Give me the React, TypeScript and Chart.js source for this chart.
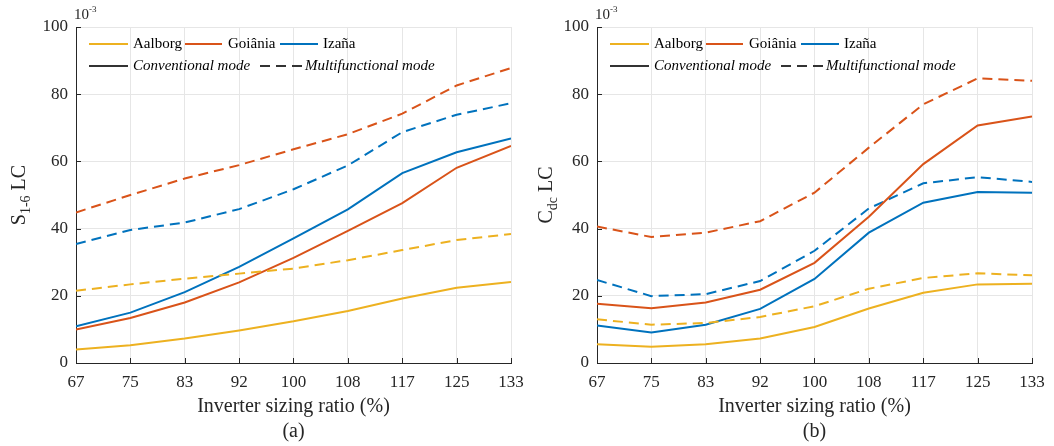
import React, { useEffect, useRef } from 'react';
import { Chart, registerables } from 'chart.js';

Chart.register(...registerables);

// Inverter sizing ratio (%) at which each case was simulated
const sizingRatio = [66.67, 75, 83.33, 91.67, 100, 108.33, 116.67, 125, 133.33];
const sizingTickLabels = ['67', '75', '83', '92', '100', '108', '117', '125', '133'];

const siteNames = ['Aalborg', 'Goiânia', 'Izaña'];
const siteColors = ['#EDB120', '#D95319', '#0072BD'];

// (a) S1-6 life consumption, ×10^-3
const s16AalborgConv = [4.0, 5.3, 7.3, 9.7, 12.4, 15.5, 19.2, 22.4, 24.1];
const s16AalborgMulti = [21.5, 23.4, 25.1, 26.6, 28.1, 30.6, 33.6, 36.6, 38.4];
const s16GoianiaConv = [10.0, 13.4, 18.0, 24.0, 31.3, 39.3, 47.6, 58.1, 64.6];
const s16GoianiaMulti = [44.8, 50.0, 54.9, 58.9, 63.6, 68.1, 74.2, 82.6, 87.8];
const s16IzanaConv = [10.9, 15.0, 21.1, 28.6, 37.1, 45.7, 56.5, 62.7, 66.8];
const s16IzanaMulti = [35.4, 39.6, 41.8, 45.8, 51.7, 58.8, 68.7, 73.9, 77.3];

// (b) DC-link capacitor life consumption, ×10^-3
const cdcAalborgConv = [5.6, 4.8, 5.6, 7.3, 10.7, 16.2, 20.9, 23.4, 23.6];
const cdcAalborgMulti = [13.0, 11.4, 11.9, 13.7, 16.9, 22.1, 25.3, 26.7, 26.1];
const cdcGoianiaConv = [17.6, 16.3, 18.0, 21.8, 29.8, 43.5, 59.2, 70.7, 73.4];
const cdcGoianiaMulti = [40.6, 37.5, 38.8, 42.2, 50.7, 64.1, 77.0, 84.7, 84.0];
const cdcIzanaConv = [11.2, 9.1, 11.4, 16.1, 25.0, 38.8, 47.7, 50.9, 50.7];
const cdcIzanaMulti = [24.7, 19.9, 20.5, 24.4, 33.4, 46.0, 53.5, 55.3, 53.9];

const yTicks = [0, 20, 40, 60, 80, 100];

const SERIF = '"Liberation Serif", "Times New Roman", serif';
const AXIS_GRAY = '#262626';
const GRID_GRAY = '#e6e6e6';
const DASH = [10, 6];

type PanelProps = {
  conv: number[][];
  multi: number[][];
  yMain: string;
  ySub: string;
  tag: string;
  left: number;
  axisWidth: number;
  padRight: number;
};

const CANVAS_W = 527;
const CANVAS_H = 446;
const PLOT_TOP = 27;
const PLOT_BOTTOM = 363;

function strokeSeg(ctx: CanvasRenderingContext2D, x0: number, x1: number, y: number, color: string, dash: number[]) {
  ctx.save();
  ctx.strokeStyle = color;
  ctx.lineWidth = 2;
  ctx.setLineDash(dash);
  ctx.beginPath();
  ctx.moveTo(x0, y);
  ctx.lineTo(x1, y);
  ctx.stroke();
  ctx.restore();
}

function Panel({ conv, multi, yMain, ySub, tag, left, axisWidth, padRight }: PanelProps) {
  const ref = useRef<HTMLCanvasElement | null>(null);

  useEffect(() => {
    if (!ref.current) return;

    const datasets: any[] = [];
    siteNames.forEach((name, i) => {
      datasets.push({
        label: `${name} conventional`,
        data: sizingRatio.map((x, k) => ({ x, y: conv[i][k] })),
        borderColor: siteColors[i],
        borderWidth: 2,
        pointRadius: 0,
        tension: 0,
      });
      datasets.push({
        label: `${name} multifunctional`,
        data: sizingRatio.map((x, k) => ({ x, y: multi[i][k] })),
        borderColor: siteColors[i],
        borderWidth: 2,
        borderDash: DASH,
        pointRadius: 0,
        tension: 0,
      });
    });

    const decorations = {
      id: 'decorations',
      afterDraw(chart: any) {
        const { ctx, chartArea, scales } = chart;
        const L = chartArea.left;
        const T = chartArea.top;
        const B = chartArea.bottom;

        // inward tick marks
        ctx.save();
        ctx.strokeStyle = AXIS_GRAY;
        ctx.lineWidth = 1;
        ctx.beginPath();
        yTicks.forEach((v) => {
          const py = Math.round(scales.y.getPixelForValue(v)) + 0.5;
          ctx.moveTo(L, py);
          ctx.lineTo(L + 5, py);
        });
        sizingRatio.forEach((v) => {
          const px = Math.round(scales.x.getPixelForValue(v)) + 0.5;
          ctx.moveTo(px, B);
          ctx.lineTo(px, B - 5);
        });
        ctx.stroke();
        ctx.restore();

        // exponent label above the y axis
        ctx.save();
        ctx.fillStyle = AXIS_GRAY;
        ctx.textBaseline = 'alphabetic';
        ctx.font = `15px ${SERIF}`;
        ctx.fillText('10', L - 2, 19);
        const w10 = ctx.measureText('10').width;
        ctx.font = `9px ${SERIF}`;
        ctx.fillText('-3', L - 2 + w10, 12);
        ctx.restore();

        // legend
        ctx.save();
        ctx.textBaseline = 'middle';
        ctx.fillStyle = '#000';
        const r1 = T + 17;
        const r2 = T + 39;
        const row1 = [
          { a: 13, b: 52, t: 57 },
          { a: 109, b: 146, t: 152 },
          { a: 204, b: 242, t: 247 },
        ];
        ctx.font = `15px ${SERIF}`;
        siteNames.forEach((name, i) => {
          strokeSeg(ctx, L + row1[i].a, L + row1[i].b, r1, siteColors[i], []);
          ctx.fillText(name, L + row1[i].t, r1);
        });
        ctx.font = `italic 15px ${SERIF}`;
        strokeSeg(ctx, L + 13, L + 52, r2, '#333333', []);
        ctx.fillText('Conventional mode', L + 57, r2);
        strokeSeg(ctx, L + 184, L + 226, r2, '#333333', DASH);
        ctx.fillText('Multifunctional mode', L + 229, r2);
        ctx.restore();

        // y-axis title with subscript
        ctx.save();
        ctx.translate(18, (T + B) / 2);
        ctx.rotate(-Math.PI / 2);
        ctx.fillStyle = AXIS_GRAY;
        ctx.textBaseline = 'alphabetic';
        const big = `20px ${SERIF}`;
        const small = `14px ${SERIF}`;
        ctx.font = big;
        const w1 = ctx.measureText(yMain).width;
        const w3 = ctx.measureText(' LC').width;
        ctx.font = small;
        const w2 = ctx.measureText(ySub).width;
        let x = -(w1 + w2 + w3) / 2;
        ctx.font = big;
        ctx.fillText(yMain, x, 7);
        x += w1;
        ctx.font = small;
        ctx.fillText(ySub, x, 12);
        x += w2;
        ctx.font = big;
        ctx.fillText(' LC', x, 7);
        ctx.restore();
      },
    };

    const chart = new Chart(ref.current, {
      type: 'line',
      data: { datasets },
      plugins: [decorations],
      options: {
        animation: false,
        responsive: false,
        maintainAspectRatio: false,
        layout: { padding: { left: 0, right: padRight, top: PLOT_TOP, bottom: 0 } },
        plugins: { legend: { display: false }, tooltip: { enabled: false } },
        scales: {
          x: {
            type: 'linear',
            min: sizingRatio[0],
            max: sizingRatio[sizingRatio.length - 1],
            afterBuildTicks: (s: any) => {
              s.ticks = sizingRatio.map((v) => ({ value: v }));
            },
            afterFit: (s: any) => {
              s.height = CANVAS_H - PLOT_BOTTOM;
              s.paddingLeft = 0;
              s.paddingRight = 0;
            },
            ticks: {
              autoSkip: false,
              maxRotation: 0,
              padding: 9,
              color: AXIS_GRAY,
              font: { family: SERIF, size: 17 },
              callback: (_v: any, i: number) => sizingTickLabels[i],
            },
            grid: { color: GRID_GRAY, drawTicks: false, lineWidth: 1 },
            border: { display: true, color: AXIS_GRAY, width: 1 },
            title: {
              display: true,
              text: ['Inverter sizing ratio (%)', tag],
              color: AXIS_GRAY,
              font: { family: SERIF, size: 20, lineHeight: 1.25 },
              padding: { top: 0, bottom: 2 },
            },
          },
          y: {
            min: 0,
            max: 100,
            afterBuildTicks: (s: any) => {
              s.ticks = yTicks.map((v) => ({ value: v }));
            },
            afterFit: (s: any) => {
              s.width = axisWidth;
              s.paddingTop = 0;
              s.paddingBottom = 0;
            },
            ticks: {
              padding: 8,
              color: AXIS_GRAY,
              font: { family: SERIF, size: 17 },
            },
            grid: { color: GRID_GRAY, drawTicks: false, lineWidth: 1 },
            border: { display: true, color: AXIS_GRAY, width: 1 },
          },
        },
      } as any,
    });

    return () => chart.destroy();
  }, []);

  return (
    <canvas
      ref={ref}
      width={CANVAS_W}
      height={CANVAS_H}
      style={{ position: 'absolute', left, top: 0, width: CANVAS_W, height: CANVAS_H }}
    />
  );
}

export default function App() {
  return (
    <div style={{ position: 'absolute', left: 0, top: 0, width: 1054, height: 446, background: '#fff' }}>
      <Panel
        conv={[s16AalborgConv, s16GoianiaConv, s16IzanaConv]}
        multi={[s16AalborgMulti, s16GoianiaMulti, s16IzanaMulti]}
        yMain="S"
        ySub="1-6"
        tag="(a)"
        left={0}
        axisWidth={76}
        padRight={16}
      />
      <Panel
        conv={[cdcAalborgConv, cdcGoianiaConv, cdcIzanaConv]}
        multi={[cdcAalborgMulti, cdcGoianiaMulti, cdcIzanaMulti]}
        yMain="C"
        ySub="dc"
        tag="(b)"
        left={527}
        axisWidth={70}
        padRight={22}
      />
    </div>
  );
}
